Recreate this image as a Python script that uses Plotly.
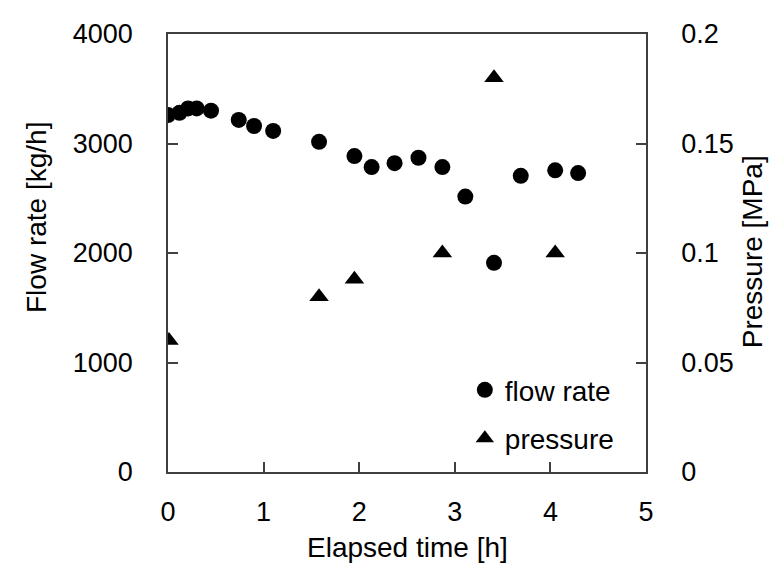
import plotly.graph_objects as go

# Flow rate data
flow_time = [0.0, 0.12, 0.21, 0.30, 0.45, 0.74, 0.90, 1.10, 1.58, 1.95, 2.13, 2.37, 2.62, 2.87, 3.11, 3.41, 3.69, 4.05, 4.29]
flow_rate = [3260, 3280, 3320, 3320, 3300, 3215, 3160, 3115, 3015, 2885, 2785, 2820, 2870, 2785, 2515, 1910, 2705, 2755, 2730]

# Pressure data
pres_time = [0.01, 1.58, 1.95, 2.87, 3.41, 4.05]
pressure = [0.06, 0.08, 0.088, 0.10, 0.18, 0.10]

FONT = "Liberation Sans, Arial, sans-serif"
AXC = "#404040"

fig = go.Figure()
fig.add_trace(go.Scatter(x=flow_time, y=flow_rate, mode="markers", name="flow rate",
                         legendgroup="a",
                         marker=dict(symbol="circle", size=16, color="black")))
fig.add_trace(go.Scatter(x=pres_time, y=pressure, mode="markers", name="pressure",
                         legendgroup="b", yaxis="y2",
                         marker=dict(symbol="triangle-up", size=17, color="black")))

fig.update_layout(
    width=771, height=567,
    margin=dict(l=168, r=125, t=34, b=95),
    paper_bgcolor="white", plot_bgcolor="white",
    font=dict(family=FONT, size=27, color="black"),
    showlegend=True,
    legend=dict(x=0.621, y=0.244, xanchor="left", yanchor="top",
                bgcolor="rgba(0,0,0,0)", font=dict(size=28),
                tracegroupgap=9, itemwidth=30),
    xaxis=dict(range=[0, 5], dtick=1, showgrid=False, zeroline=False,
               showline=True, linecolor=AXC, linewidth=1.5, mirror=True,
               ticks="inside", ticklen=10, tickcolor=AXC, tickwidth=1.5,
               ticklabelstandoff=15),
    yaxis=dict(range=[0, 4000], dtick=1000, showgrid=False, zeroline=False,
               showline=True, linecolor=AXC, linewidth=1.5,
               ticks="inside", ticklen=10, tickcolor=AXC, tickwidth=1.5,
               ticklabelstandoff=28),
    yaxis2=dict(range=[0, 0.2], dtick=0.05, overlaying="y", side="right",
                showgrid=False, zeroline=False,
                showline=True, linecolor=AXC, linewidth=1.5,
                ticks="inside", ticklen=10, tickcolor=AXC, tickwidth=1.5,
                ticklabelstandoff=28),
    annotations=[
        dict(text="Flow rate [kg/h]", xref="paper", yref="paper", x=-0.274, y=0.58,
             xanchor="center", yanchor="middle", textangle=-90, showarrow=False,
             font=dict(size=28)),
        dict(text="Pressure [MPa]", xref="paper", yref="paper", x=1.222, y=0.502,
             xanchor="center", yanchor="middle", textangle=-90, showarrow=False,
             font=dict(size=28)),
        dict(text="Elapsed time [h]", xref="paper", yref="paper", x=0.5, y=-0.172,
             xanchor="center", yanchor="middle", showarrow=False,
             font=dict(size=28)),
    ],
)

fig.write_html("out.html")
